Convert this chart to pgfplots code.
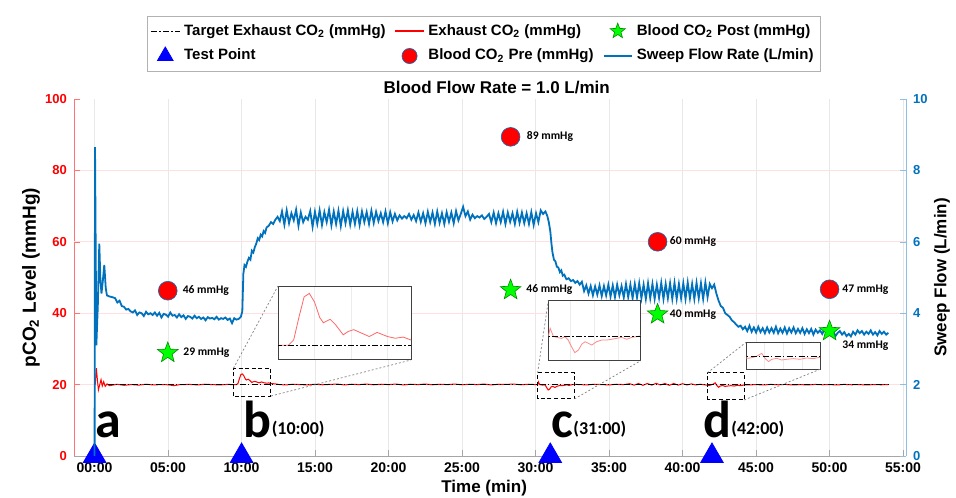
\documentclass[border=0pt]{standalone}
\usepackage{pgfplots}
\pgfplotsset{compat=1.18}
\usepackage{pgfplotstable}
\usepackage{fontspec}
\setmainfont{Liberation Sans}
\newfontfamily\calibri{Carlito}
\definecolor{mblue}{RGB}{0,114,189}
\definecolor{lblue}{RGB}{140,190,230}
\definecolor{tri}{RGB}{0,0,255}
\definecolor{sgreen}{RGB}{0,255,0}
\newcommand{\lab}{\calibri\bfseries\fontsize{5.8}{6}\selectfont}
\newcommand{\sm}[1]{\raisebox{1.3pt}{\fontsize{9}{9}\selectfont #1}}
\pgfdeclareplotmark{fstar}{%
 \pgfpathmoveto{\pgfpointpolar{90}{\pgfplotmarksize}}%
 \pgfpathlineto{\pgfpointpolar{126}{0.42\pgfplotmarksize}}%
 \pgfpathlineto{\pgfpointpolar{162}{\pgfplotmarksize}}%
 \pgfpathlineto{\pgfpointpolar{198}{0.42\pgfplotmarksize}}%
 \pgfpathlineto{\pgfpointpolar{234}{\pgfplotmarksize}}%
 \pgfpathlineto{\pgfpointpolar{270}{0.42\pgfplotmarksize}}%
 \pgfpathlineto{\pgfpointpolar{306}{\pgfplotmarksize}}%
 \pgfpathlineto{\pgfpointpolar{342}{0.42\pgfplotmarksize}}%
 \pgfpathlineto{\pgfpointpolar{18}{\pgfplotmarksize}}%
 \pgfpathlineto{\pgfpointpolar{54}{0.42\pgfplotmarksize}}%
 \pgfpathclose
 \pgfusepathqfillstroke}

\pgfplotstableread{
t f
0.00 0.0
0.03 8.65
0.12 3.1
0.22 4.2
0.32 5.95
0.40 4.9
0.47 4.55
0.56 4.9
0.66 5.35
0.76 4.7
0.84 4.5
1.00 4.47
1.20 4.45
1.40 4.42
1.55 4.30
1.70 4.35
1.85 4.20
2.00 4.18
2.15 4.10
2.30 4.12
2.45 4.05
2.60 4.02
2.75 4.08
2.90 3.95
3.05 4.02
3.20 4.00
3.35 3.92
3.50 4.04
3.65 3.97
3.80 4.00
3.95 3.95
4.10 4.02
4.25 3.93
4.40 4.01
4.55 3.88
4.70 3.98
4.85 3.96
5.00 3.90
5.15 4.02
5.30 3.93
5.45 3.95
5.60 3.88
5.75 3.97
5.90 3.89
6.05 3.94
6.20 3.84
6.35 3.92
6.50 3.90
6.65 3.85
6.80 3.93
6.95 3.86
7.10 3.90
7.25 3.84
7.40 3.88
7.55 3.80
7.70 3.89
7.85 3.85
8.00 3.87
8.15 3.83
8.30 3.90
8.45 3.82
8.60 3.86
8.75 3.84
8.90 3.88
9.05 3.81
9.20 3.85
9.35 3.72
9.50 3.86
9.65 3.82
9.80 3.84
9.95 3.90
10.05 4.05
10.12 5.10
10.20 5.35
10.30 5.30
10.40 5.45
10.50 5.55
10.60 5.50
10.70 5.75
10.80 5.70
10.90 5.85
11.00 5.95
11.10 6.10
11.20 6.05
11.30 6.20
11.40 6.15
11.50 6.30
11.60 6.25
11.70 6.40
11.85 6.45
12.00 6.55
12.15 6.50
12.30 6.62
12.45 6.70
12.60 6.58
12.75 6.85
12.91 6.48
13.07 6.88
13.23 6.52
13.39 6.80
13.55 6.60
13.71 6.90
13.87 6.45
14.03 6.82
14.19 6.55
14.35 6.70
14.51 6.62
14.67 6.86
14.83 6.42
14.99 6.84
15.15 6.50
15.31 6.88
15.47 6.47
15.63 6.83
15.79 6.55
15.95 6.90
16.11 6.46
16.27 6.85
16.43 6.50
16.59 6.87
16.75 6.44
16.91 6.86
17.07 6.52
17.23 6.88
17.39 6.48
17.55 6.84
17.71 6.50
17.87 6.86
18.03 6.47
18.19 6.85
18.35 6.55
18.51 6.83
18.67 6.50
18.83 6.87
18.99 6.53
19.15 6.84
19.31 6.58
19.47 6.80
19.63 6.55
19.79 6.85
19.95 6.52
20.11 6.83
20.27 6.57
20.43 6.78
20.59 6.60
20.75 6.74
20.91 6.65
21.07 6.72
21.23 6.66
21.39 6.78
21.55 6.62
21.71 6.75
21.87 6.58
22.03 6.82
22.19 6.56
22.35 6.80
22.51 6.52
22.67 6.84
22.83 6.55
22.99 6.82
23.15 6.50
23.31 6.85
23.47 6.53
23.63 6.80
23.79 6.50
23.95 6.83
24.11 6.56
24.27 6.82
24.43 6.52
24.59 6.86
24.75 6.60
24.91 6.78
25.07 6.98
25.23 6.72
25.39 6.85
25.55 6.62
25.71 6.76
25.87 6.66
26.03 6.72
26.19 6.68
26.35 6.74
26.51 6.64
26.67 6.70
26.83 6.78
26.99 6.55
27.15 6.82
27.31 6.52
27.47 6.80
27.63 6.55
27.79 6.84
27.95 6.50
28.11 6.82
28.27 6.56
28.43 6.80
28.59 6.50
28.75 6.84
28.91 6.53
29.07 6.82
29.23 6.52
29.39 6.80
29.55 6.50
29.71 6.83
29.87 6.47
30.03 6.80
30.19 6.55
30.35 6.88
30.51 6.78
30.67 6.85
30.80 6.72
30.90 6.55
31.00 6.30
31.08 5.95
31.15 5.70
31.25 5.50
31.35 5.45
31.45 5.30
31.55 5.28
31.65 5.15
31.75 5.20
31.85 5.05
31.95 5.08
32.10 4.95
32.25 4.98
32.40 4.90
32.55 4.93
32.70 4.85
32.85 4.90
33.00 4.80
33.15 4.88
33.30 4.62
33.45 4.78
33.60 4.55
33.75 4.76
33.90 4.50
34.05 4.75
34.20 4.52
34.35 4.78
34.50 4.48
34.65 4.76
34.80 4.50
34.95 4.80
35.10 4.47
35.25 4.78
35.40 4.45
35.55 4.80
35.70 4.50
35.85 4.76
36.00 4.44
36.15 4.82
36.30 4.45
36.45 4.80
36.60 4.42
36.75 4.82
36.90 4.44
37.05 4.84
37.20 4.42
37.35 4.80
37.50 4.40
37.65 4.84
37.80 4.42
37.95 4.82
38.10 4.40
38.25 4.80
38.40 4.43
38.55 4.85
38.70 4.40
38.85 4.82
39.00 4.42
39.15 4.84
39.30 4.40
39.45 4.85
39.60 4.40
39.75 4.82
39.90 4.42
40.05 4.84
40.20 4.40
40.35 4.86
40.50 4.42
40.65 4.82
40.80 4.40
40.95 4.85
41.10 4.42
41.25 4.84
41.40 4.40
41.55 4.86
41.70 4.45
41.85 4.82
42.00 4.70
42.15 4.80
42.30 4.55
42.45 4.35
42.60 4.20
42.75 4.15
42.90 4.00
43.05 3.95
43.20 3.90
43.35 3.80
43.50 3.75
43.65 3.68
43.80 3.62
43.95 3.65
44.10 3.55
44.25 3.62
44.40 3.50
44.55 3.65
44.70 3.48
44.85 3.60
45.00 3.46
45.15 3.62
45.30 3.47
45.45 3.58
45.60 3.44
45.75 3.60
45.90 3.46
46.05 3.58
46.20 3.45
46.35 3.62
46.50 3.44
46.65 3.57
46.80 3.45
46.95 3.60
47.10 3.43
47.25 3.58
47.40 3.46
47.55 3.60
47.70 3.44
47.85 3.56
48.00 3.45
48.15 3.58
48.30 3.42
48.45 3.55
48.60 3.44
48.75 3.56
48.90 3.40
49.05 3.54
49.20 3.45
49.35 3.52
49.50 3.42
49.65 3.55
49.80 3.46
49.95 3.50
50.10 3.38
50.25 3.48
50.40 3.36
50.55 3.45
50.70 3.50
50.85 3.40
51.00 3.47
51.15 3.36
51.30 3.42
51.45 3.35
51.60 3.48
51.75 3.40
51.90 3.52
52.05 3.44
52.20 3.50
52.35 3.40
52.50 3.48
52.65 3.42
52.80 3.52
52.95 3.40
53.10 3.47
53.25 3.38
53.40 3.50
53.55 3.42
53.70 3.48
53.85 3.40
54.00 3.45
}\sweep

\pgfplotstableread{
t e
0.05 20.0
0.12 24.6
0.20 21.0
0.26 18.5
0.34 19.8
0.44 21.4
0.52 19.6
0.62 20.8
0.72 19.5
0.85 20.2
1.00 19.7
1.30 19.9
1.50 20.1
2.00 19.8
2.50 20.0
3.00 19.85
3.50 20.1
4.00 19.9
4.50 20.0
5.00 19.95
5.40 19.7
5.80 20.0
6.50 20.05
7.00 19.9
7.50 20.1
8.00 20.0
8.50 19.9
9.00 20.05
9.45 20.0
9.65 20.0
9.75 20.3
9.85 21.6
9.95 22.8
10.05 23.0
10.15 22.5
10.25 21.6
10.32 21.3
10.45 21.5
10.55 21.2
10.70 20.6
10.80 20.8
10.90 20.9
11.05 20.7
11.20 20.5
11.35 20.74
11.55 20.5
11.70 20.4
11.85 20.47
12.00 20.3
12.30 20.2
12.60 20.0
13.0 19.9
13.5 20.1
14.0 20.0
14.5 19.9
15.0 20.1
15.5 19.95
16.0 20.05
16.5 20.15
17.0 19.9
17.5 20.1
18.0 20.0
18.5 20.15
19.0 19.95
19.5 20.1
20.0 20.0
20.5 20.15
21.0 19.9
21.5 20.1
22.0 20.0
22.5 20.15
23.0 19.95
23.5 20.1
24.0 20.0
24.5 20.15
25.0 19.95
25.5 20.1
26.0 20.0
26.5 20.15
27.0 19.9
27.5 20.1
28.0 20.05
28.5 20.15
29.0 19.95
29.5 20.1
30.0 20.0
30.14 20.0
30.19 20.77
30.28 20.0
30.37 19.93
30.50 19.83
30.59 20.0
30.68 19.68
30.77 19.06
30.86 18.5
30.96 18.75
31.05 19.3
31.14 19.52
31.23 19.37
31.32 19.21
31.45 19.52
31.59 19.68
31.73 19.68
31.86 19.75
32.00 19.84
32.13 19.93
32.27 19.75
32.41 19.93
32.54 20.0
32.65 20.06
33.0 20.0
33.5 19.9
34.0 20.1
34.5 20.0
35.0 19.9
35.5 20.1
36.0 20.0
36.4 20.25
36.7 19.85
37.0 20.3
37.3 19.8
37.6 20.3
37.9 19.85
38.2 20.35
38.5 19.9
38.8 20.3
39.1 19.8
39.4 20.3
39.7 19.85
40.0 20.25
40.3 19.9
40.6 20.2
40.9 19.9
41.2 20.1
41.5 19.95
41.69 19.8
41.77 19.75
41.94 19.9
42.07 20.1
42.22 20.49
42.33 19.75
42.45 19.26
42.56 19.6
42.73 19.75
42.89 19.5
43.06 19.6
43.29 19.7
43.51 19.6
43.74 19.8
43.96 19.7
44.19 19.9
44.5 19.9
45.0 20.0
45.5 19.9
46.0 20.05
46.5 19.95
47.0 20.05
47.5 19.9
48.0 20.0
48.5 19.9
49.0 20.05
49.5 19.95
50.0 20.0
50.5 19.9
51.0 20.05
51.5 19.95
52.0 20.0
52.5 19.9
53.0 20.0
53.5 19.95
54.0 20.0
}\exhaust

\pgfplotstableread{
t g
0.9 20
54.0 20
}\target

\tikzset{tgt/.style={black, line width=0.6pt, dash pattern=on 3pt off 1.2pt on 0.6pt off 1.2pt}}
\pgfplotsset{
  lineleg/.style={legend image code/.code={\draw[##1] (0cm,0cm) -- (0.5cm,0cm);}},
  markleg/.style={legend image code/.code={\draw[##1] plot coordinates {(0.25cm,0cm)};}},
}

\begin{document}
\begin{tikzpicture}
% ---------------- main left axis ----------------
\begin{axis}[
  name=main, at={(0,0)}, anchor=south west,
  scale only axis, width=416pt, height=178.5pt,
  xmin=-1.4, xmax=55.2, ymin=0, ymax=100,
  axis x line*=bottom, axis y line*=left,
  xtick={0,5,...,55},
  xticklabels={00:00,05:00,10:00,15:00,20:00,25:00,30:00,35:00,40:00,45:00,50:00,55:00},
  ytick={0,20,...,100},
  tick align=inside, major tick length=3pt,
  x axis line style={gray!70, line width=0.4pt},
  y axis line style={red!55, line width=0.4pt},
  xtick style={gray!70}, ytick style={red!55},
  xmajorgrids, major x grid style={gray!18, line width=0.4pt},
  extra y ticks={20,40,60,80}, extra y tick labels={},
  extra y tick style={grid=major, major grid style={red!12, line width=0.4pt}},
  /pgf/number format/assume math mode=true,
  yticklabel style={font=\fontsize{6.5}{7}\selectfont\bfseries, text=red},
  xticklabel style={font=\fontsize{7}{8}\selectfont\bfseries},
  clip=false,
  legend columns=3,
  legend cell align=left,
  legend style={at={(axis description cs:0.4928,1.233)}, anchor=north,
    draw=gray!60, line width=0.4pt,
    font=\fontsize{7.5}{8}\selectfont\bfseries,
    inner xsep=1.5pt, inner ysep=2pt, row sep=1.5pt,
    /tikz/every even column/.append style={column sep=2.5pt}},
]
\addplot[red, line width=0.5pt, forget plot] table[x=t,y=e] {\exhaust};
\addplot[tgt, forget plot] table[x=t,y=g] {\target};
\addplot[only marks, mark=triangle*, mark size=6.5pt, color=tri, forget plot]
  coordinates {(0,0) (10,0) (31,0) (42,0)};

\addlegendimage{tgt, lineleg}
\addlegendentry{Target Exhaust CO\textsubscript{2} (mmHg)}
\addlegendimage{red, line width=0.65pt, lineleg}
\addlegendentry{Exhaust CO\textsubscript{2} (mmHg)}
\addlegendimage{only marks, mark=fstar, mark size=4pt, mark options={fill=sgreen, draw=green!55!black, line width=0.3pt}, markleg}
\addlegendentry{Blood CO\textsubscript{2} Post (mmHg)}
\addlegendimage{only marks, mark=triangle*, mark size=4.5pt, color=tri, markleg}
\addlegendentry{Test Point}
\addlegendimage{only marks, mark=*, mark size=3.8pt, mark options={fill=red, draw=mblue, line width=0.3pt}, markleg}
\addlegendentry{Blood CO\textsubscript{2} Pre (mmHg)}
\addlegendimage{mblue, line width=0.9pt, lineleg}
\addlegendentry{Sweep Flow Rate (L/min)}

\node[anchor=center, font=\fontsize{8.5}{9}\selectfont\bfseries] at (axis description cs:0.508,1.031) {Blood Flow Rate = 1.0 L/min};
\node[anchor=center, font=\fontsize{8.5}{9}\selectfont\bfseries] at (axis description cs:0.493,-0.0896) {Time (min)};
\node[anchor=center, rotate=90, font=\fontsize{9.5}{10}\selectfont\bfseries] at (axis description cs:-0.0517,0.5) {pCO\textsubscript{2} Level (mmHg)};
\end{axis}

% ---------------- right axis: sweep flow ----------------
\begin{axis}[
  at={(0,0)}, anchor=south west,
  scale only axis, width=416pt, height=178.5pt,
  xmin=-1.4, xmax=55.2, ymin=0, ymax=10,
  axis y line*=right, axis x line=none,
  ytick={0,2,...,10},
  tick align=inside, major tick length=3pt,
  y axis line style={lblue, line width=0.5pt}, ytick style={lblue},
  /pgf/number format/assume math mode=true,
  yticklabel style={font=\fontsize{6.5}{7}\selectfont\bfseries, text=mblue},
  clip=false,
]
\addplot[mblue, line width=0.9pt] table[x=t,y=f] {\sweep};
\node[anchor=center, rotate=90, font=\fontsize{8.5}{9}\selectfont\bfseries] at (axis description cs:1.0433,0.5) {Sweep Flow (L/min)};
\end{axis}

% ---------------- markers and annotations ----------------
\begin{axis}[
  at={(0,0)}, anchor=south west,
  scale only axis, width=416pt, height=178.5pt,
  xmin=-1.4, xmax=55.2, ymin=0, ymax=100,
  hide axis, clip=false,
]
\addplot[only marks, mark=*, mark size=4.7pt, mark options={fill=red, draw=mblue, line width=0.3pt}]
  coordinates {(4.98,46.3) (28.3,89.4) (38.3,60.0) (50.0,46.7)};
\addplot[only marks, mark=fstar, mark size=5.4pt, mark options={fill=sgreen, draw=green!55!black, line width=0.3pt}]
  coordinates {(4.98,28.9) (28.3,46.5) (38.3,39.7) (50.0,35.0)};

\node[anchor=west, inner sep=0pt, font=\lab, xshift=7.3pt] at (axis cs:4.98,46.3) {46 mmHg};
\node[anchor=west, inner sep=0pt, font=\lab, xshift=7.6pt] at (axis cs:4.98,28.9) {29 mmHg};
\node[anchor=west, inner sep=0pt, font=\lab, xshift=8pt] at (axis cs:28.3,89.4) {89 mmHg};
\node[anchor=west, inner sep=0pt, font=\lab, xshift=7.7pt] at (axis cs:28.3,46.5) {46 mmHg};
\node[anchor=west, inner sep=0pt, font=\lab, xshift=6pt] at (axis cs:38.3,60.0) {60 mmHg};
\node[anchor=west, inner sep=0pt, font=\lab, xshift=6pt] at (axis cs:38.3,39.7) {40 mmHg};
\node[anchor=west, inner sep=0pt, font=\lab, xshift=6.2pt] at (axis cs:50.0,46.7) {47 mmHg};
\node[anchor=west, inner sep=0pt, font=\lab, xshift=6.2pt, yshift=-7.3pt] at (axis cs:50.0,35.0) {34 mmHg};

\node[anchor=base west, inner sep=0pt] at (axis cs:0.05,5.3) {\calibri\bfseries\fontsize{26}{26}\selectfont a};
\node[anchor=base west, inner sep=0pt] at (axis cs:10.13,5.3) {\calibri\bfseries{\fontsize{26}{26}\selectfont b}\sm{(10:00)}};
\node[anchor=base west, inner sep=0pt] at (axis cs:31.07,5.3) {\calibri\bfseries{\fontsize{26}{26}\selectfont c}\sm{(31:00)}};
\node[anchor=base west, inner sep=0pt] at (axis cs:41.4,5.3) {\calibri\bfseries{\fontsize{26}{26}\selectfont d}\sm{(42:00)}};

\draw[black, line width=0.5pt, dash pattern=on 2pt off 1.3pt] (axis cs:9.45,16.8) rectangle (axis cs:12.0,24.6);
\draw[black, line width=0.5pt, dash pattern=on 2pt off 1.3pt] (axis cs:30.14,16.0) rectangle (axis cs:32.65,23.3);
\draw[black, line width=0.5pt, dash pattern=on 2pt off 1.3pt] (axis cs:41.69,15.7) rectangle (axis cs:44.19,23.3);
\coordinate (bTL) at (axis cs:9.45,24.6);
\coordinate (bBR) at (axis cs:12.0,16.8);
\coordinate (cTL) at (axis cs:30.14,23.3);
\coordinate (cBR) at (axis cs:32.65,16.0);
\coordinate (dTL) at (axis cs:41.69,23.3);
\coordinate (dBR) at (axis cs:44.19,15.7);
\end{axis}

% ---------------- insets ----------------
\pgfplotsset{inset/.style={anchor=south west, scale only axis,
  xticklabels={}, ytick=\empty, xmajorgrids, major x grid style={gray!15, line width=0.3pt},
  major tick length=0pt, axis line style={black!75, line width=0.5pt},
  axis background/.style={fill=white}}}
\begin{axis}[inset, name=insb, at={(102pt,48pt)}, width=66.5pt, height=37pt,
  xmin=9.45, xmax=12.0, ymin=19.14, ymax=23.43, xtick={10.15,10.85,11.55}]
\addplot[red!60, line width=0.4pt] table[x=t,y=e] {\exhaust};
\addplot[tgt, line width=0.45pt] table[x=t,y=g] {\target};
\end{axis}
\begin{axis}[inset, name=insc, at={(237.15pt,47.65pt)}, width=46.2pt, height=30pt,
  xmin=30.14, xmax=32.65, ymin=17.75, ymax=23.35, xtick={30.75,31.4,32.05}]
\addplot[red!45, line width=0.4pt] table[x=t,y=e] {\exhaust};
\addplot[tgt, line width=0.45pt] table[x=t,y=g] {\target};
\end{axis}
\begin{axis}[inset, name=insd, at={(336pt,43.35pt)}, width=37pt, height=13.5pt,
  xmin=41.69, xmax=44.19, ymin=18.12, ymax=22.12, xtick={42.3,42.95,43.6}]
\addplot[red!45, line width=0.4pt] table[x=t,y=e] {\exhaust};
\addplot[tgt, line width=0.45pt] table[x=t,y=g] {\target};
\end{axis}

\draw[gray, line width=0.35pt, dash pattern=on 1pt off 1pt] (bTL) -- (insb.north west) (bBR) -- (insb.south east);
\draw[gray, line width=0.35pt, dash pattern=on 1pt off 1pt] (cTL) -- (insc.north west) (cBR) -- (insc.south east);
\draw[gray, line width=0.35pt, dash pattern=on 1pt off 1pt] (dTL) -- (insd.north west) (dBR) -- (insd.south east);

\pgfresetboundingbox
\useasboundingbox (-37pt,-20.5pt) rectangle (441pt,228pt);
\end{tikzpicture}
\end{document}
